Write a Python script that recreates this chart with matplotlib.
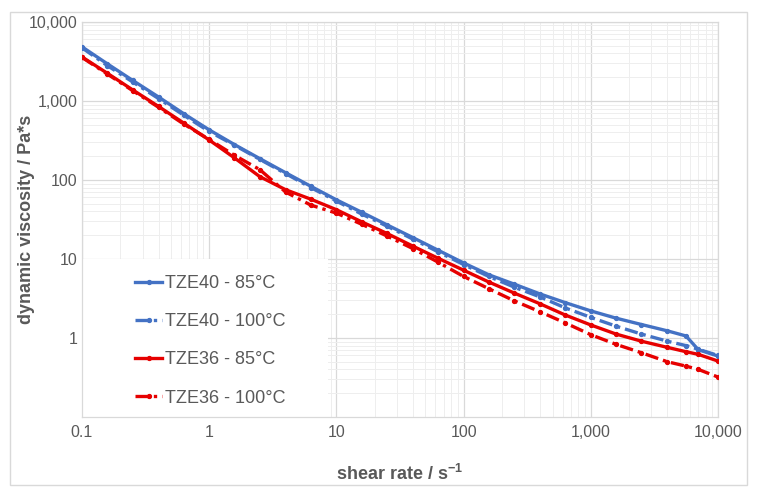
import matplotlib.pyplot as plt
from matplotlib.patches import Rectangle
from matplotlib.ticker import FixedLocator, FixedFormatter, LogLocator, NullFormatter

plt.rcParams['font.family'] = ['Liberation Sans', 'DejaVu Sans']

shear = [0.1, 0.158, 0.25, 0.4, 0.63, 1, 1.58, 2.5, 4, 6.3, 10, 15.8, 25, 40, 63,
         100, 158, 250, 400, 630, 1000, 1580, 2500, 4000, 5600, 7000, 10000]

tze40_85 = [4830, 2950, 1820, 1120, 690, 430, 280, 186, 123, 83, 56, 39, 27, 18.6, 12.9,
            8.9, 6.3, 4.8, 3.6, 2.8, 2.2, 1.78, 1.48, 1.23, 1.06, 0.71, 0.59]
tze40_100 = [4700, 2800, 1740, 1070, 660, 410, 275, 182, 120, 80, 54, 37, 26, 17.8, 12.3,
             8.5, 6.0, 4.4, 3.3, 2.4, 1.82, 1.41, 1.12, 0.91, 0.80, 0.72, 0.60]
tze36_85 = [3600, 2240, 1380, 850, 525, 320, 190, 110, 75, 57, 42, 29.5, 21, 14.5, 10.2,
            7.2, 5.1, 3.7, 2.7, 1.95, 1.46, 1.12, 0.91, 0.76, 0.67, 0.62, 0.51]
tze36_100 = [3550, 2190, 1350, 830, 510, 325, 205, 135, 70, 48, 38, 27.5, 19.5, 13.5, 9.1,
             6.0, 4.2, 2.95, 2.14, 1.55, 1.10, 0.83, 0.65, 0.50, 0.44, 0.40, 0.32]

labels = ['TZE40 - 85°C', 'TZE40 - 100°C', 'TZE36 - 85°C', 'TZE36 - 100°C']
x_ticks = [0.1, 1, 10, 100, 1000, 10000]
x_tick_labels = ['0.1', '1', '10', '100', '1,000', '10,000']
y_ticks = [1, 10, 100, 1000, 10000]
y_tick_labels = ['1', '10', '100', '1,000', '10,000']

blue = '#4472C4'
red = '#E60000'
grey = '#595959'
dash = (0, (4, 1.5, 1, 1.5))

fig = plt.figure(figsize=(7.59, 4.97), dpi=100)
ax = fig.add_axes([0.108, 0.161, 0.838, 0.795])

# Рамка вокруг всей диаграммы
fig.patches.append(Rectangle((10 / 759, 1 - 485 / 497), 737 / 759, 473 / 497,
                             transform=fig.transFigure, fill=False,
                             edgecolor='#D9D9D9', linewidth=1))

ax.plot(shear, tze40_85, color=blue, lw=2.4, marker='o', ms=2.8, label=labels[0], zorder=3)
ax.plot(shear, tze40_100, color=blue, lw=2.4, ls=dash, marker='o', ms=2.8, label=labels[1], zorder=3)
ax.plot(shear, tze36_85, color=red, lw=2.4, marker='o', ms=2.8, label=labels[2], zorder=3)
ax.plot(shear, tze36_100, color=red, lw=2.4, ls=dash, marker='o', ms=2.8, label=labels[3], zorder=3)

ax.set_xscale('log')
ax.set_yscale('log')
ax.set_xlim(0.1, 10000)
ax.set_ylim(0.1, 10000)

ax.xaxis.set_major_locator(FixedLocator(x_ticks))
ax.xaxis.set_major_formatter(FixedFormatter(x_tick_labels))
ax.yaxis.set_major_locator(FixedLocator(y_ticks))
ax.yaxis.set_major_formatter(FixedFormatter(y_tick_labels))
ax.xaxis.set_minor_locator(LogLocator(base=10, subs=range(2, 10), numticks=20))
ax.yaxis.set_minor_locator(LogLocator(base=10, subs=range(2, 10), numticks=20))
ax.xaxis.set_minor_formatter(NullFormatter())
ax.yaxis.set_minor_formatter(NullFormatter())

ax.grid(which='major', color='#D9D9D9', lw=0.9)
ax.grid(which='minor', color='#EEEEEE', lw=0.7)
ax.set_axisbelow(True)
for s in ax.spines.values():
    s.set_color('#D9D9D9')
    s.set_linewidth(0.9)
ax.tick_params(which='both', length=0, labelsize=11.5, labelcolor=grey)
ax.tick_params(axis='x', pad=6)
ax.tick_params(axis='y', pad=3)

ax.set_xlabel('shear rate / s$^{\\mathregular{-1}}$', fontsize=13, fontweight='bold', color=grey)
ax.set_ylabel('dynamic viscosity / Pa*s', fontsize=13, fontweight='bold', color=grey)
ax.xaxis.set_label_coords(0.5, -0.12)
ax.yaxis.set_label_coords(-0.074, 0.5)

# Белый фон под легендой
ax.add_patch(Rectangle((0, 0), 0.387, 0.40, transform=ax.transAxes,
                       facecolor='white', edgecolor='none', zorder=2))

leg = ax.legend(loc='upper left', bbox_to_anchor=((135 - 82) / 636, 0.359),
                borderaxespad=0, borderpad=0, fontsize=13, labelspacing=1.17,
                handlelength=1.5, handletextpad=0.15, frameon=False)
leg.set_zorder(4)
for t in leg.get_texts():
    t.set_color(grey)

fig.savefig('out.png', dpi=100)
